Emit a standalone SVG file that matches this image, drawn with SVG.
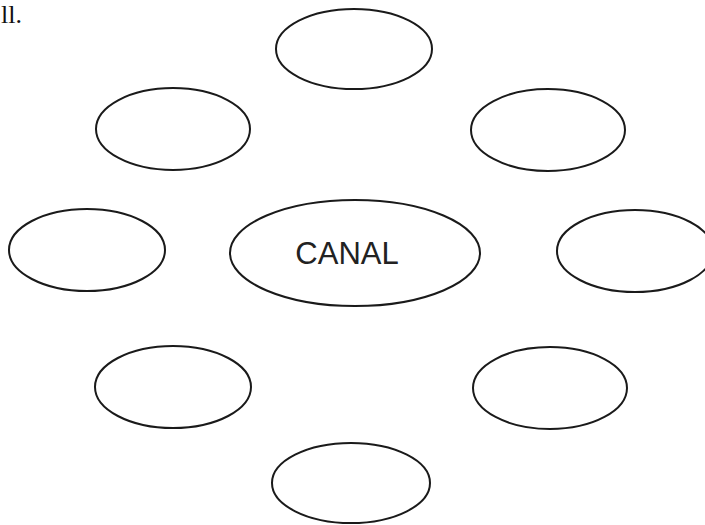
<svg xmlns="http://www.w3.org/2000/svg" width="705" height="525" viewBox="0 0 705 525">
<style>
.n{fill:none;stroke:#1a1a1a;stroke-width:2}
.t{font-family:"Liberation Sans",Arial,sans-serif;font-size:31px;fill:#222}
.s{font-family:"Liberation Serif","Times New Roman",serif;font-size:26px;fill:#111}
</style>
<rect width="705" height="525" fill="#fff"/>
<text class="s" x="1" y="23">ll.</text>
<g id="connectors"></g>
<g id="center"><ellipse class="n" cx="355" cy="253" rx="125" ry="53"/><text class="t" x="347" y="264" text-anchor="middle">CANAL</text></g>
<g id="top"><ellipse class="n" cx="354" cy="49" rx="78" ry="40"/></g>
<g id="upper-left"><ellipse class="n" cx="173" cy="129" rx="77" ry="41"/></g>
<g id="upper-right"><ellipse class="n" cx="548" cy="130" rx="77" ry="41"/></g>
<g id="left"><ellipse class="n" cx="87" cy="250" rx="78" ry="41"/></g>
<g id="right"><ellipse class="n" cx="635" cy="251" rx="78" ry="41"/></g>
<g id="lower-left"><ellipse class="n" cx="173" cy="387" rx="78" ry="41"/></g>
<g id="lower-right"><ellipse class="n" cx="550" cy="388" rx="77" ry="41"/></g>
<g id="bottom"><ellipse class="n" cx="351" cy="483" rx="79" ry="40"/></g>
</svg>
